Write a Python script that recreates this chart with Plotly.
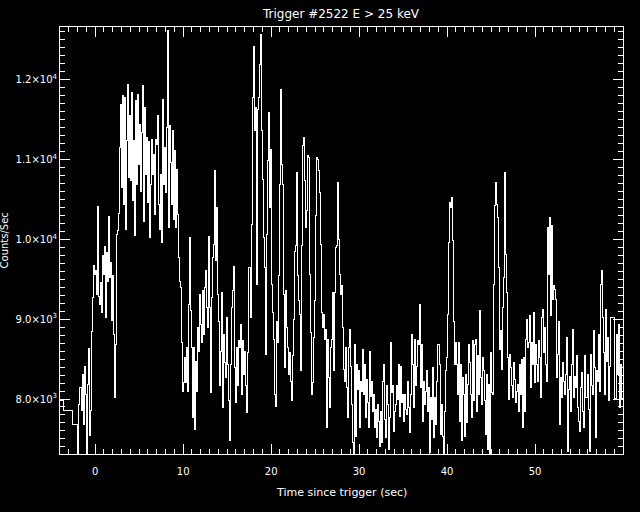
import plotly.graph_objects as go

# ---------------- data ----------------
# coarse pre-trigger bins: start times (s) and counts/s
pre_t = [-4.6, -3.59, -2.53]
pre_counts = [7975, 7862, 7682]

# fine-resolution segments: start time, bin width, counts/s
seg1_t0 = -1.955
seg2_t0 = 17.63
seg3_t0 = 39.05
bin_dt = 0.1139

seg1_counts = [
    7265, 7933, 8142, 7850, 8309, 7683, 8413, 8058, 7290, 8184, 8630, 7549, 7850, 8843, 9270, 9675,
    9562, 9612, 9311, 10410, 9290, 9186, 9458, 9082, 9792, 9562, 9909, 9027, 9829, 9478, 10285, 9520,
    9708, 8986, 9541, 8810, 8016, 8685, 10063, 10105, 10326, 11149, 11692, 10648, 11797, 10439, 11776,
    10126, 11233, 11935, 10773, 11546, 10732, 11838, 10481, 11233, 10042, 11734, 10690, 11818, 10940,
    11442, 10594, 11337, 11922, 10218, 11650, 10815, 11275, 10460, 11220, 10022, 10690, 11254, 10815,
    11066, 10314, 11254, 11191, 11546, 10439, 10126, 10815, 9959, 11755, 10690, 11149, 10585, 11400,
    12611, 10147, 11421, 10961, 10439, 11358, 10251, 11108, 10147, 10878, 10314, 9771, 9478, 9395,
    8706, 8100, 8205, 8518, 8205, 8643, 8100, 9186, 10022, 9103, 8643, 7766, 8643, 7620, 8476, 8100,
    8894, 8601, 9311, 8935, 8706, 9353, 8810, 9395, 9604, 9144, 8894, 10034, 9144, 8079, 9270, 9771,
    9938, 10857, 9729, 10397, 9311, 8977, 8163, 8601, 9332, 7891, 8810, 8455, 8267, 9019, 8434, 7975,
    7474, 8434, 9144, 9353, 9666, 8392, 7954, 8643, 8163, 8727, 8643, 8935, 8058, 8727, 8309, 8601,
    8163, 7829, 8580, 9646, 9646,
]

seg2_counts = [
    9019, 10189, 11776, 12411, 11358, 11651, 9437, 11630, 11776, 12194, 12569, 11358, 10752, 10021,
    9646, 8560, 10063, 10982, 11588, 10397, 11128, 9437, 9082, 8748, 8058, 7912, 8977, 8706, 9541,
    10690, 11880, 10940, 10690, 9311, 8392, 9353, 8894, 8643, 8309, 8580, 8225, 7975, 8539, 8998,
    9854, 9917, 10836, 9541, 9228, 9061, 8351, 9917, 11170, 11275, 10732, 10147, 10356, 11045, 11024,
    9562, 8831, 8058, 8204, 8768, 9228, 10293, 11024, 11003, 10857, 10585, 9938, 9082, 8894, 9061,
    8748, 8873, 7641, 8748, 8267, 7891, 8643, 8748, 9332, 8351, 9332, 9896, 9917, 10711, 10001, 9562,
    9311, 9416, 8894, 8372, 8225, 8643, 8142, 7766, 8643, 8873, 8413, 7933, 7453, 7290, 8685, 7536,
    8434, 8121, 8351, 7641, 8225, 8100, 8622, 8058, 8434, 7766, 8246, 7954, 7641, 8601, 8037, 8225,
    7849, 8058, 7641, 7870, 7515, 7933, 7724, 7411, 7849, 7453, 8225, 8434, 7745, 7515, 8163, 7933,
    7369, 7766, 8706, 8079, 8163, 7599, 7849, 7933, 8163, 7996, 8434, 7787, 8413, 7954, 8058, 7724,
    8058, 7870, 7808, 8225, 7891, 7578, 8058, 8810, 8434, 7891, 8748, 8163, 8413, 8727, 8685, 9186,
    8142, 8685, 7724, 8225, 7933, 8100, 8351, 7849, 8142, 7327, 8017, 7745, 8392, 7515, 8017, 7682,
    8225, 8685,
]

seg3_counts = [
    8685, 8434, 7557, 7933, 7536, 7306, 7849, 8351, 8518, 9061, 9959, 10460, 10397, 10523, 9980, 8977,
    8434, 8706, 8434, 8058, 8706, 7724, 8434, 7474, 8267, 8058, 7536, 8309, 7703, 8184, 8685, 8455,
    8058, 7766, 8727, 7975, 8685, 8748, 7849, 8539, 8058, 9103, 8267, 7933, 8518, 8351, 7975, 7557,
    8309, 7369, 8184, 7306, 8580, 8079, 8058, 9437, 10418, 10711, 10439, 10272, 9646, 8622, 8852, 8372,
    9144, 9520, 10836, 9813, 9332, 8518, 7996, 8560, 8392, 8163, 8017, 8455, 8246, 7954, 8100, 8184,
    7849, 8434, 8058, 8497, 7641, 8518, 7849, 8748, 8998, 8643, 8706, 9040, 8142, 8706, 8434, 9082,
    8204, 8685, 8434, 8225, 8727, 8518, 8017, 9019, 9123, 8580, 8894, 8434, 8225, 10147, 9562, 10272,
    9040, 10168, 9249, 9416, 9374, 9249, 8267, 8560, 8977, 7682, 8267, 8017, 8455, 8225, 8058, 8309,
    8768, 7348, 8121, 8288, 7849, 8434, 8873, 8017, 8288, 8142, 8539, 7891, 7724, 7599, 8142, 8330,
    7849, 7641, 8539, 8017, 8309, 7870, 7348, 8560, 8163, 8058, 8852, 8392, 7515, 8351, 8225, 8810,
    8100, 9437, 9604, 9019, 8580, 8058, 9123, 8476, 8768, 7975, 8413, 9019, 9019, 9019, 9019, 8008,
    8008, 8810, 8309, 8935, 7891, 8434, 8008, 8008, 8008,
]

title_text = "Trigger #2522 E > 25 keV"
x_title = "Time since trigger (sec)"
y_title = "Counts/Sec"
x_range = [-4.0, 60.0]
y_range = [7311, 12660]
x_tickvals = [0, 10, 20, 30, 40, 50]
y_tickvals = [8000, 9000, 10000, 11000, 12000]
y_ticktext = ["8.0×10<sup>3</sup>", "9.0×10<sup>3</sup>", "1.0×10<sup>4</sup>",
              "1.1×10<sup>4</sup>", "1.2×10<sup>4</sup>"]

# ---------------- build the step series ----------------
times = list(pre_t)
counts = list(pre_counts)
for t0, seg in ((seg1_t0, seg1_counts), (seg2_t0, seg2_counts), (seg3_t0, seg3_counts)):
    for i, c in enumerate(seg):
        times.append(t0 + i * bin_dt)
        counts.append(c)

FONT = "DejaVu Sans"

fig = go.Figure()
fig.add_trace(go.Scatter(
    x=times, y=counts, mode="lines",
    line=dict(color="white", width=1, shape="hv"),
    hoverinfo="skip", showlegend=False,
))

axis_common = dict(
    showline=True, linecolor="white", linewidth=1, mirror="allticks",
    ticks="inside", tickcolor="white", tickwidth=1,
    showgrid=False, zeroline=False, automargin=False,
    tickfont=dict(family=FONT, size=10, color="white"),
)

fig.update_xaxes(
    range=x_range, tickvals=x_tickvals, ticklen=10,
    minor=dict(dtick=1, tick0=0, ticks="inside", ticklen=5, tickcolor="white", showgrid=False),
    ticklabelstandoff=8,
    **axis_common,
)
fig.update_yaxes(
    range=y_range, tickvals=y_tickvals, ticktext=y_ticktext, ticklen=10,
    minor=dict(dtick=100, ticks="inside", ticklen=5, tickcolor="white", showgrid=False),
    **axis_common,
)

fig.update_layout(
    width=640, height=512,
    paper_bgcolor="black", plot_bgcolor="black",
    margin=dict(l=60, r=17, t=27, b=58),
    title=dict(text=title_text, x=341 / 640, xanchor="center", xref="container",
               y=1 - 14 / 512, yanchor="middle", yref="container",
               font=dict(family=FONT, size=12, color="white")),
    annotations=[
        dict(text=x_title, xref="paper", yref="paper", x=0.5, y=-(492 - 454) / 427,
             xanchor="center", yanchor="middle", showarrow=False,
             font=dict(family=FONT, size=11, color="white")),
        dict(text=y_title, xref="paper", yref="paper", x=-(60 - 5) / 562.5, y=0.5,
             xanchor="center", yanchor="middle", textangle=-90, showarrow=False,
             font=dict(family=FONT, size=10, color="white")),
    ],
)

post = (
    "document.body.style.margin='0';"
    "document.body.style.padding='0';"
    "document.body.style.background='black';"
    "document.documentElement.style.overflow='hidden';"
    "document.querySelectorAll('.scatterlayer path').forEach(function(p){"
    "p.style.shapeRendering='crispEdges';});"
)

fig.write_html("out.html", post_script=post, config={"displayModeBar": False, "staticPlot": True})
